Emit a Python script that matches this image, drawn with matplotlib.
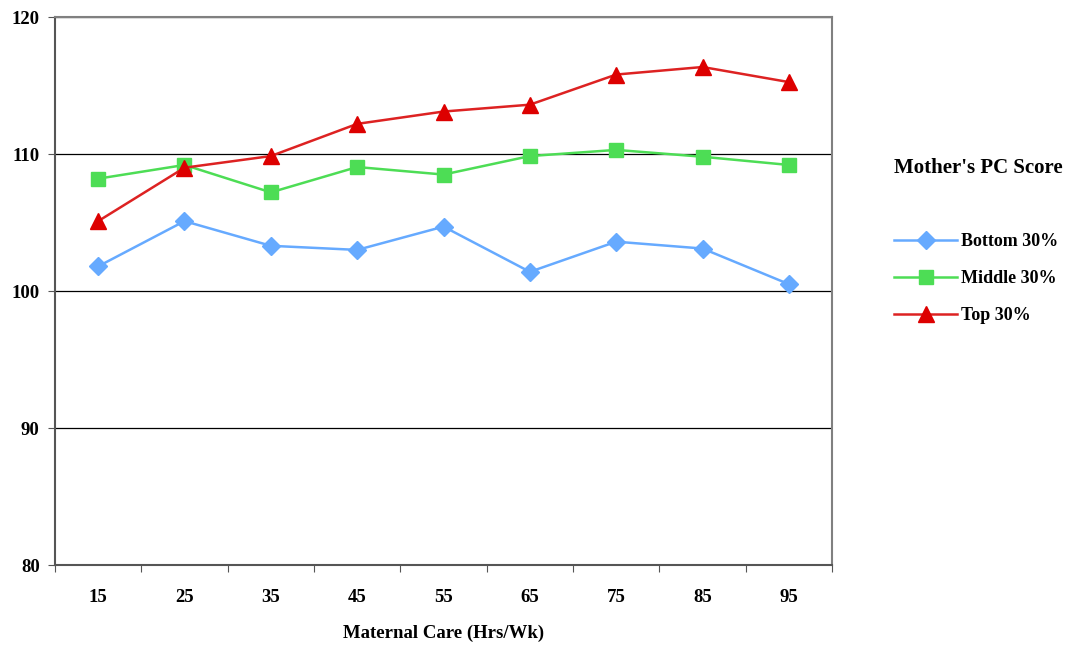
import matplotlib.pyplot as plt

plt.rcParams['font.family'] = ['Liberation Serif', 'DejaVu Serif']
plt.rcParams['font.weight'] = 'bold'

# data
hours = ['15', '25', '35', '45', '55', '65', '75', '85', '95']
bottom = [101.8, 105.1, 103.3, 103.0, 104.7, 101.4, 103.6, 103.1, 100.5]
middle = [108.2, 109.2, 107.2, 109.05, 108.5, 109.85, 110.3, 109.8, 109.2]
top = [105.1, 109.0, 109.85, 112.2, 113.1, 113.6, 115.8, 116.35, 115.25]

series = [
    ('Bottom 30%', bottom, '#66aaff', '#66aaff', 'D', 9),
    ('Middle 30%', middle, '#4ddd55', '#4ddd55', 's', 10),
    ('Top 30%', top, '#dd2222', '#dd0000', '^', 11),
]

fig = plt.figure(figsize=(10.76, 6.49), dpi=100)
ax = fig.add_axes([0.0511, 0.1294, 0.7222, 0.8444])

x = list(range(len(hours)))
for name, vals, lc, mc, mk, ms in series:
    ax.plot(x, vals, color=lc, lw=1.8, marker=mk, markersize=ms,
            markerfacecolor=mc, markeredgecolor=mc, label=name, zorder=3)

ax.set_ylim(80, 120)
ax.set_xlim(-0.5, len(hours) - 0.5)
ax.set_yticks([80, 90, 100, 110, 120])
ax.yaxis.grid(True, color='#000000', lw=0.9)
ax.set_axisbelow(True)

# category labels in the middle, tick marks on the boundaries
ax.set_xticks([i - 0.5 for i in range(len(hours) + 1)])
ax.set_xticklabels([])
ax.set_xticks(x, minor=True)
ax.set_xticklabels(hours, minor=True)
ax.tick_params(axis='x', which='major', length=5, direction='out', color='#555555')
ax.tick_params(axis='x', which='minor', length=0, pad=17, labelsize=13.5)
ax.tick_params(axis='y', length=5, direction='out', color='#555555', labelsize=13.5, pad=6)

for s in ax.spines.values():
    s.set_color('#808080')
    s.set_linewidth(1.5)
ax.spines['left'].set_color('#555555')
ax.spines['bottom'].set_color('#555555')

ax.set_xlabel('Maternal Care (Hrs/Wk)', fontsize=13.5, fontweight='bold', labelpad=14)

fig.text(0.8305, 0.741, "Mother's PC Score", fontsize=15, fontweight='bold', va='center')

handles, labels = ax.get_legend_handles_labels()
fig.legend(handles, labels, loc='upper left', bbox_to_anchor=(0.816, 0.666),
           frameon=False, handlelength=3.5, handletextpad=0.2,
           labelspacing=1.12, prop={'weight': 'bold', 'size': 13})

fig.savefig('out.png', dpi=100)
